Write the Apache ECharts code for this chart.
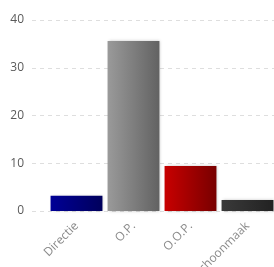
<!DOCTYPE html>
<html>
<head>
<meta charset="utf-8">
<script src="https://cdn.jsdelivr.net/npm/echarts@6/dist/echarts.min.js"></script>
<style>
  html, body { margin: 0; padding: 0; background: #fff; }
  #chart { width: 274px; height: 267px; }
</style>
</head>
<body>
<div id="chart"></div>
<script>
const categories = ["Directie", "O.P.", "O.O.P.", "Schoonmaak"];
const values = [3.2, 35.6, 9.4, 2.3];
const barColors = [
  ["#000096", "#00005c"],
  ["#9a9a9a", "#626262"],
  ["#c80000", "#780000"],
  ["#3a3a3a", "#222222"],
];
const yTicks = { min: 0, max: 40, interval: 10 };

const chart = echarts.init(document.getElementById("chart"));

const grad = (c) => new echarts.graphic.LinearGradient(0, 0, 1, 0, [
  { offset: 0, color: c[0] },
  { offset: 1, color: c[1] },
]);

chart.setOption({
  animation: false,
  grid: [
    { left: 32, right: 0, top: 20, bottom: 56, outerBoundsMode: "none" },
    { left: 48, right: -2, top: 20, bottom: 56, outerBoundsMode: "none" },
  ],
  xAxis: [
    { gridIndex: 0, type: "category", data: categories, show: false },
    {
      gridIndex: 1,
      type: "category",
      data: categories,
      axisLine: { show: false },
      axisTick: { show: false },
      axisLabel: { rotate: 45, color: "#8a8a8a", fontSize: 12, fontFamily: "Open Sans", margin: 13, interval: 0 },
    },
  ],
  yAxis: [
    {
      gridIndex: 0,
      type: "value",
      ...yTicks,
      axisLine: { show: false },
      axisTick: { show: false },
      axisLabel: { color: "#5a5a5a", fontSize: 12, fontFamily: "Open Sans", margin: 8 },
      splitLine: { lineStyle: { color: "#dedede", type: [4, 4] } },
    },
    { gridIndex: 1, type: "value", ...yTicks, show: false, splitLine: { show: false } },
  ],
  series: [{
    type: "bar",
    xAxisIndex: 1,
    yAxisIndex: 1,
    barCategoryGap: "9%",
    data: values.map((v, i) => ({
      value: v,
      itemStyle: {
        color: grad(barColors[i]),
        shadowColor: "rgba(0,0,0,0.25)",
        shadowBlur: 3,
        shadowOffsetX: 1,
      },
    })),
  }],
});
</script>
</body>
</html>
